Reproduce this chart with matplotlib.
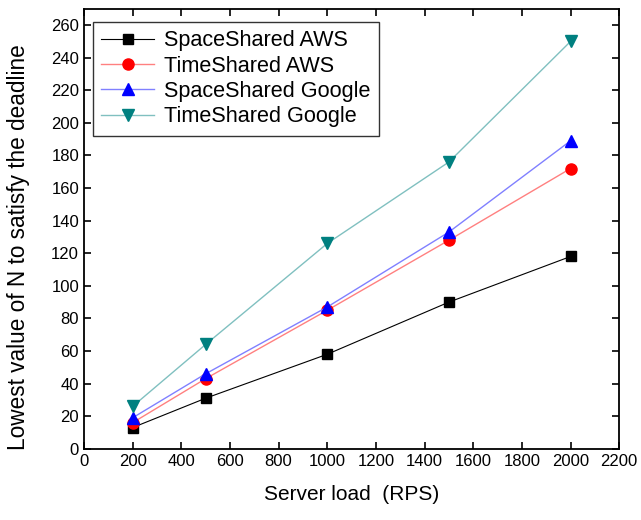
import matplotlib
matplotlib.use("Agg")
import matplotlib.pyplot as plt

plt.rcParams['font.family'] = ['Liberation Sans', 'DejaVu Sans']

load = [200, 500, 1000, 1500, 2000]
space_aws = [13, 31, 58, 90, 118]
time_aws = [16, 43, 85, 128, 172]
space_google = [19, 46, 87, 133, 189]
time_google = [26, 64, 126, 176, 250]

fig = plt.figure(figsize=(6.41, 5.20), dpi=100)
ax = fig.add_axes([0.131, 0.137, 0.835, 0.846])

ax.plot(load, space_aws, color='black', lw=0.8, marker='s', ms=7, mfc='black', mec='black', label='SpaceShared AWS')
ax.plot(load, time_aws, color='#ff8080', lw=1.0, marker='o', ms=8, mfc='red', mec='red', label='TimeShared AWS')
ax.plot(load, space_google, color='#8080ff', lw=1.0, marker='^', ms=9, mfc='blue', mec='blue', label='SpaceShared Google')
ax.plot(load, time_google, color='#80c0c0', lw=1.0, marker='v', ms=9, mfc='#008080', mec='#008080', label='TimeShared Google')

ax.set_xlim(0, 2200)
ax.set_ylim(0, 270)
ax.set_xticks(range(0, 2201, 200))
ax.set_yticks(range(0, 261, 20))
ax.tick_params(direction='in', top=True, right=True, length=5, width=1.2, labelsize=12)
for s in ax.spines.values():
    s.set_linewidth(1.3)

ax.set_xlabel('Server load  (RPS)', fontsize=15, labelpad=12)
ax.set_ylabel('Lowest value of N to satisfy the deadline', fontsize=16.3)
ax.yaxis.set_label_coords(-0.101, 0.459)

leg = ax.legend(loc='upper left', bbox_to_anchor=(0.017, 0.970), fontsize=15.6, frameon=True,
                fancybox=False, edgecolor='black', handlelength=2.42, borderpad=0.38,
                labelspacing=0.2, handletextpad=0.47, borderaxespad=0)
leg.get_frame().set_linewidth(1.0)

fig.savefig('out.png', dpi=100)
